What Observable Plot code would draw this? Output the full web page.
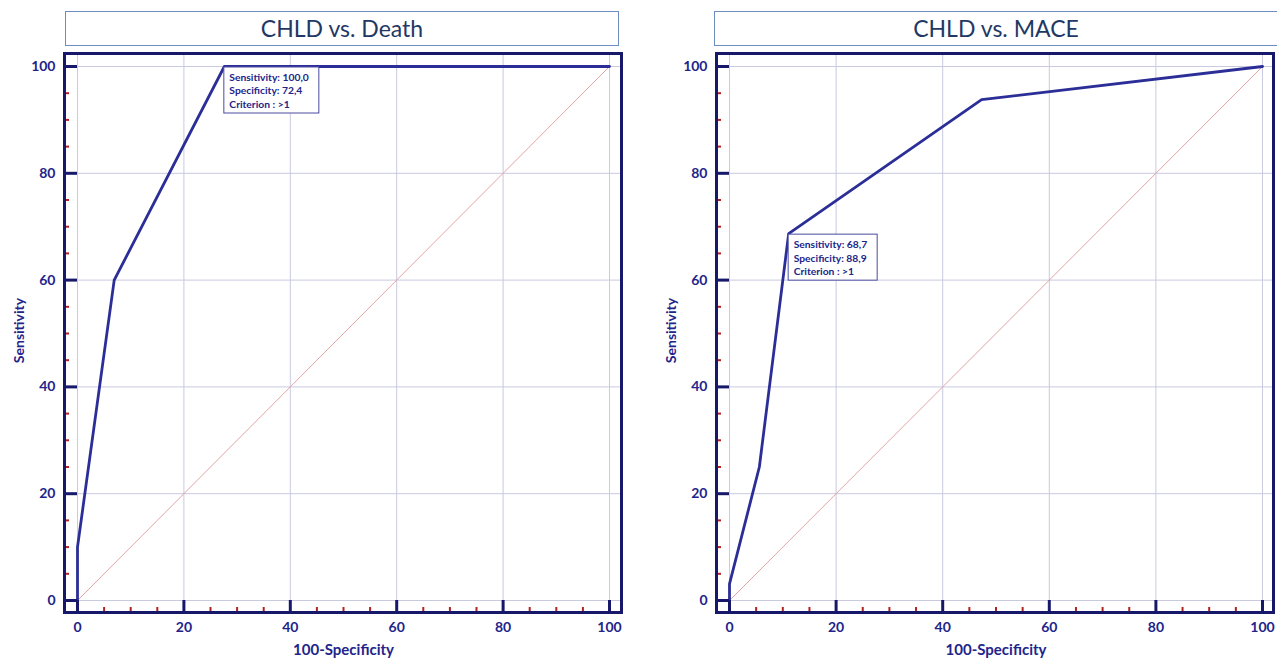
<!DOCTYPE html>
<html>
<head>
<meta charset="utf-8">
<script src="https://cdn.jsdelivr.net/npm/d3@7"></script>
<script src="https://cdn.jsdelivr.net/npm/@observablehq/plot@0.6"></script>
<style>
  html, body { margin: 0; padding: 0; background: #ffffff; }
  #wrap { position: relative; width: 1277px; height: 662px; overflow: hidden; font-family: Lato, "Open Sans", sans-serif; }
  .panel { position: absolute; top: 0; }
  .title {
    position: absolute; top: 11px; height: 35px; box-sizing: border-box;
    border: 1px solid #6d8cc2; background: #ffffff;
    color: #1f3864; font-size: 23px; line-height: 33px; text-align: center;
    font-family: Lato, "Open Sans", sans-serif;
  }
</style>
</head>
<body>
<div id="wrap"></div>
<script>
// ---- data ----
const titles = ["CHLD vs. Death", "CHLD vs. MACE"];
const deathFpr  = [0, 0, 6.9, 27.6, 100];
const deathSens = [0, 10, 60, 100, 100];
const maceFpr   = [0, 0, 5.6, 11.1, 47.3, 100];
const maceSens  = [0, 3.1, 25, 68.7, 93.8, 100];
const diagFpr   = [0, 100];
const diagSens  = [0, 100];
const majorTicks = [0, 20, 40, 60, 80, 100];
const minorTicks = [5, 10, 15, 25, 30, 35, 45, 50, 55, 65, 70, 75, 85, 90, 95];
const deathCriterion = {fpr: 27.6, sens: 100, label: "Sensitivity: 100,0\nSpecificity: 72,4\nCriterion : >1"};
const maceCriterion  = {fpr: 11.1, sens: 68.7, label: "Sensitivity: 68,7\nSpecificity: 88,9\nCriterion : >1"};
const xLabel = "100-Specificity";
const yLabel = "Sensitivity";

// ---- styles ----
const NAVY = "#17186a";
const CURVE = "#2c2e98";
const LABEL = "#22248a";
const GRID = "#c9c9e0";
const MINOR = "#b3221c";
const DIAG = "#e3a4a4";

function zip(xs, ys) { return xs.map((x, i) => ({fpr: x, sens: ys[i]})); }

function makeChart(cfg) {
  const roc = zip(cfg.fpr, cfg.sens);
  const diag = zip(diagFpr, diagSens);
  return Plot.plot({
    width: cfg.width,
    height: 662,
    marginLeft: cfg.marginLeft,
    marginRight: cfg.marginRight,
    marginTop: 66,
    marginBottom: 62,
    x: {domain: [0, 100]},
    y: {domain: [0, 100]},
    style: {fontFamily: "Lato, 'Open Sans', sans-serif", background: "transparent"},
    marks: [
      Plot.gridX(majorTicks, {stroke: GRID, strokeOpacity: 1, strokeWidth: 1, insetTop: -13}),
      Plot.gridY(majorTicks, {stroke: GRID, strokeOpacity: 1, strokeWidth: 1, insetRight: -cfg.gutterRight}),
      Plot.line(diag, {x: "fpr", y: "sens", stroke: DIAG, strokeWidth: 1}),
      Plot.line(roc, {x: "fpr", y: "sens", stroke: CURVE, strokeWidth: 2.8}),
      // ticks
      Plot.axisY(majorTicks, {anchor: "left", tickSize: 13, fill: "none", label: null, stroke: NAVY, strokeWidth: 3}),
      Plot.axisY(minorTicks, {anchor: "left", tickSize: 5, dx: -8, fill: "none", label: null, stroke: MINOR, strokeWidth: 2}),
      Plot.axisX(majorTicks, {anchor: "bottom", tickSize: 12, fill: "none", label: null, stroke: NAVY, strokeWidth: 3}),
      Plot.axisX(minorTicks, {anchor: "bottom", tickSize: 5, dy: 7, fill: "none", label: null, stroke: MINOR, strokeWidth: 2}),
      // tick labels
      Plot.axisY(majorTicks, {anchor: "left", tickSize: 0, tickPadding: 22, label: null, fill: LABEL, fontSize: 14, fontWeight: "bold"}),
      Plot.axisX(majorTicks, {anchor: "bottom", tickSize: 0, tickPadding: 22, label: null, fill: LABEL, fontSize: 14, fontWeight: "bold"}),
      // axis titles
      Plot.text([yLabel], {text: d => d, frameAnchor: "left", textAnchor: "middle", dx: -58, dy: -3, rotate: -90, fill: LABEL, fontSize: 14, fontWeight: "bold"}),
      Plot.text([xLabel], {text: d => d, frameAnchor: "bottom", textAnchor: "middle", dy: 54, fill: LABEL, fontSize: 15, fontWeight: "bold"}),
      // frame
      Plot.frame({stroke: NAVY, strokeWidth: 3, insetLeft: -13, insetRight: -cfg.gutterRight, insetTop: -13, insetBottom: -12}),
      // criterion annotation
      Plot.rect([cfg.crit], {x1: "fpr", x2: "fpr", y1: "sens", y2: "sens", insetTop: 1, insetBottom: -47, insetRight: -cfg.boxWidth, fill: "white", stroke: "#4a4aa0", strokeWidth: 1}),
      Plot.text([cfg.crit], {x: "fpr", y: "sens", text: "label", textAnchor: "start", lineAnchor: "top", lineHeight: 1.3, dx: 5, dy: 5, fill: LABEL, fontSize: 10.3, fontWeight: "bold"})
    ]
  });
}

const wrap = document.getElementById("wrap");

const panels = [
  {left: 0, width: 640, marginLeft: 77, marginRight: 31, gutterRight: 12, fpr: deathFpr, sens: deathSens, crit: deathCriterion, boxWidth: 95,
   title: titles[0], titleLeft: 65, titleWidth: 554},
  {left: 640, width: 637, marginLeft: 89, marginRight: 15, gutterRight: 11, fpr: maceFpr, sens: maceSens, crit: maceCriterion, boxWidth: 89,
   title: titles[1], titleLeft: 714, titleWidth: 564}
];

for (const p of panels) {
  const div = document.createElement("div");
  div.className = "panel";
  div.style.left = p.left + "px";
  div.appendChild(makeChart(p));
  wrap.appendChild(div);
  const t = document.createElement("div");
  t.className = "title";
  t.style.left = p.titleLeft + "px";
  t.style.width = p.titleWidth + "px";
  t.textContent = p.title;
  wrap.appendChild(t);
}
</script>
</body>
</html>
